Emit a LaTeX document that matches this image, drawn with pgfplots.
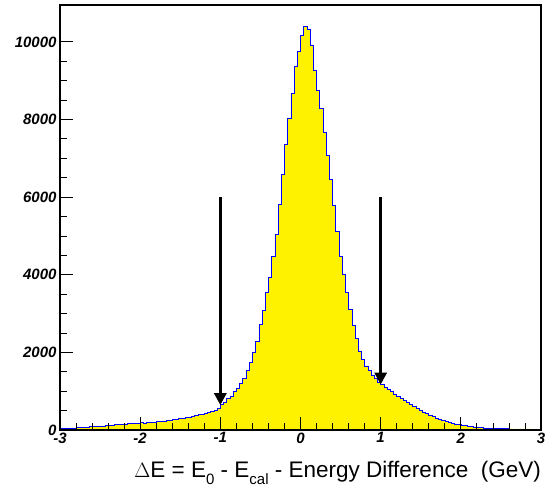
\documentclass[border=0pt]{standalone}
\usepackage{pgfplots}
\pgfplotsset{compat=1.18}
\usepackage{pgfplotstable}
\usepackage{fontspec}
\setmainfont{Liberation Sans}
\usetikzlibrary{arrows.meta}

% Energy difference histogram, bin width 0.04 GeV (left bin edges)
\pgfplotstableread{
x y
-3.00 42
-2.96 50
-2.92 47
-2.88 56
-2.84 54
-2.80 63
-2.76 66
-2.72 74
-2.68 80
-2.64 88
-2.60 92
-2.56 99
-2.52 104
-2.48 106
-2.44 118
-2.40 121
-2.36 131
-2.32 134
-2.28 146
-2.24 152
-2.20 158
-2.16 166
-2.12 165
-2.08 175
-2.04 178
-2.00 186
-1.96 183
-1.92 197
-1.88 202
-1.84 206
-1.80 218
-1.76 224
-1.72 232
-1.68 246
-1.64 250
-1.60 265
-1.56 276
-1.52 292
-1.48 303
-1.44 325
-1.40 338
-1.36 362
-1.32 372
-1.28 398
-1.24 410
-1.20 428
-1.16 452
-1.12 486
-1.08 508
-1.04 560
-1.00 655
-0.96 725
-0.92 805
-0.88 870
-0.84 985
-0.80 1070
-0.76 1210
-0.72 1330
-0.68 1530
-0.64 1750
-0.60 1990
-0.56 2290
-0.52 2720
-0.48 3080
-0.44 3540
-0.40 3930
-0.36 4470
-0.32 5030
-0.28 5820
-0.24 6580
-0.20 7370
-0.16 8030
-0.12 8680
-0.08 9380
-0.04 9760
0.00 10160
0.04 10400
0.08 10330
0.12 9900
0.16 9280
0.20 8760
0.24 8290
0.28 7660
0.32 7080
0.36 6460
0.40 5790
0.44 5120
0.48 4480
0.52 4020
0.56 3540
0.60 3120
0.64 2690
0.68 2360
0.72 2040
0.76 1830
0.80 1650
0.84 1540
0.88 1410
0.92 1320
0.96 1230
1.00 1170
1.04 1110
1.08 1050
1.12 985
1.16 930
1.20 872
1.24 810
1.28 760
1.32 702
1.36 660
1.40 602
1.44 556
1.48 512
1.52 462
1.56 420
1.60 382
1.64 340
1.68 308
1.72 274
1.76 248
1.80 222
1.84 198
1.88 178
1.92 158
1.96 142
2.00 126
2.04 112
2.08 98
2.12 87
2.16 78
2.20 70
2.24 61
2.28 55
2.32 50
2.36 46
2.40 42
2.44 38
2.48 36
2.52 34
2.56 32
2.60 30
2.64 30
2.68 28
2.72 28
2.76 27
2.80 26
2.84 26
2.88 25
2.92 25
2.96 24
3.00 24
}\histdata

\begin{document}
\begin{tikzpicture}[x=1pt,y=1pt]
\begin{axis}[
  at={(0,0)}, anchor=south west,
  scale only axis, width=481pt, height=425pt,
  xmin=-3, xmax=3, ymin=0, ymax=10950,
  axis on top,
  xtick={-3,-2,...,3}, ytick={0,2000,...,10000},
  minor x tick num=4, minor y tick num=3,
  xtick pos=left, ytick pos=left,
  tick align=inside,
  major tick length=13pt, minor tick length=7pt,
  axis line style={line width=1.2pt},
  every tick/.style={black, line width=0.8pt},
  ticklabel style={font=\fontsize{15}{15}\selectfont\bfseries\itshape},
  xticklabel style={yshift=1pt},
  /pgf/number format/assume math mode=true,
  /pgf/number format/1000 sep={},
  scaled y ticks=false,
  xlabel={$\Delta$E = E\raisebox{-0.3em}{\fontsize{15}{15}\selectfont 0} - E\raisebox{-0.3em}{\fontsize{15}{15}\selectfont cal} - Energy Difference\ \ (GeV)},
  xlabel style={at={(rel axis cs:1,0)}, anchor=base east, yshift=-48pt,
    font=\fontsize{22.5}{22.5}\selectfont, inner sep=0pt},
]
\addplot[const plot mark left, fill=yellow, draw=blue, line width=0.6pt]
  table {\histdata} \closedcycle;
\addplot[black, line width=3pt, -{Triangle[width=12pt,length=12pt]}]
  coordinates {(-1,6000) (-1,640)};
\addplot[black, line width=3pt, -{Triangle[width=12pt,length=12pt]}]
  coordinates {(1,6000) (1,1170)};
\end{axis}
\path (-60,-59) rectangle (492,430);
\end{tikzpicture}
\end{document}
